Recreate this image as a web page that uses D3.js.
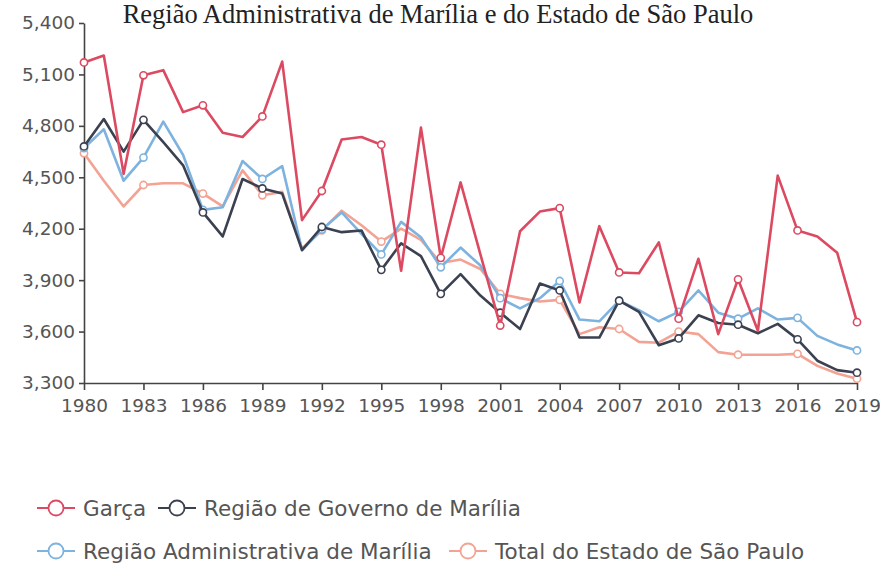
<!DOCTYPE html>
<html lang="pt">
<head>
<meta charset="UTF-8">
<title>Região Administrativa de Marília e do Estado de São Paulo</title>
<style>
    html, body { margin: 0; padding: 0; background: #fff; }
    svg { display: block; }
    .tick text { fill: #555; font-family: "DejaVu Sans", "Open Sans", sans-serif; font-size: 18.5px; }
    .tick line, .domain { stroke: #444; stroke-width: 1.6px; }
    .legend text { fill: #555; font-family: "DejaVu Sans", "Open Sans", sans-serif; font-size: 21.5px; }
</style>
</head>
<body>
<svg id="chart"></svg>
<script src="https://d3js.org/d3.v7.min.js"></script>
<script>
    // Data
    var years = d3.range(1980, 2020);
    var markerYears = [1980, 1983, 1986, 1989, 1992, 1995, 1998, 2001, 2004, 2007, 2010, 2013, 2016, 2019];
    var yTicks = [3300, 3600, 3900, 4200, 4500, 4800, 5100, 5400];

    var garca = [5170, 5210, 4520, 5095, 5125, 4880, 4920, 4760, 4735, 4855,
                 5175, 4250, 4420, 4720, 4735, 4690, 3955, 4790, 4030, 4470,
                 4050, 3635, 4185, 4300, 4320, 3770, 4215, 3945, 3940, 4120,
                 3675, 4025, 3585, 3905, 3605, 4510, 4190, 4155, 4060, 3655];
    var governo = [4680, 4840, 4650, 4835, 4705, 4570, 4295, 4155, 4490, 4435,
                   4405, 4075, 4210, 4180, 4190, 3960, 4115, 4040, 3820, 3935,
                   3810, 3710, 3615, 3880, 3840, 3565, 3565, 3780, 3715, 3520,
                   3560, 3695, 3650, 3640, 3590, 3645, 3555, 3430, 3375, 3360];
    var administrativa = [4670, 4780, 4480, 4615, 4825, 4630, 4310, 4325, 4595, 4490,
                          4565, 4075, 4195, 4295, 4170, 4050, 4240, 4150, 3975, 4090,
                          3985, 3795, 3735, 3795, 3895, 3670, 3660, 3780, 3725, 3660,
                          3715, 3840, 3710, 3675, 3735, 3670, 3680, 3575, 3525, 3490];
    var estado = [4640, 4480, 4330, 4455, 4465, 4465, 4405, 4330, 4540, 4395,
                  4415, 4085, 4190, 4305, 4220, 4125, 4200, 4135, 4000, 4020,
                  3965, 3820, 3795, 3775, 3785, 3585, 3625, 3615, 3540, 3535,
                  3600, 3585, 3480, 3465, 3465, 3465, 3470, 3400, 3355, 3325];

    var seriesNames = ["Garça", "Região de Governo de Marília",
                       "Região Administrativa de Marília", "Total do Estado de São Paulo"];
    var seriesColors = ["#dc4a62", "#3b4150", "#7db3de", "#f3a393"];

    var series = [
        { name: seriesNames[0], color: seriesColors[0], values: garca },
        { name: seriesNames[1], color: seriesColors[1], values: governo },
        { name: seriesNames[2], color: seriesColors[2], values: administrativa },
        { name: seriesNames[3], color: seriesColors[3], values: estado }
    ];

    // Layout
    var W = 880, H = 568;
    var margin = { top: 23, right: 23, bottom: 185, left: 84 },
        width = W - margin.left - margin.right,
        height = H - margin.top - margin.bottom;

    var svg = d3.select("#chart").attr("width", W).attr("height", H);

    // Title
    svg.append("text")
        .attr("x", 438)
        .attr("y", 23)
        .attr("text-anchor", "middle")
        .style("font-family", "'Liberation Serif', 'DejaVu Serif', serif")
        .style("font-size", "26.5px")
        .style("fill", "#222")
        .text("Região Administrativa de Marília e do Estado de São Paulo");

    var g = svg.append("g")
        .attr("transform", "translate(" + margin.left + "," + margin.top + ")");

    var x = d3.scaleLinear().domain([1980, 2019]).range([0, width]);
    var y = d3.scaleLinear().domain([3300, 5400]).range([height, 0]);

    // Axes
    g.append("g")
        .attr("transform", "translate(0," + height + ")")
        .call(d3.axisBottom(x).tickValues(markerYears).tickFormat(d3.format("d")).tickSize(7).tickSizeOuter(0))
        .call(a => a.selectAll(".tick text").attr("y", 11).attr("dy", "0.95em"));

    g.append("g")
        .call(d3.axisLeft(y).tickValues(yTicks).tickFormat(d3.format(",")).tickSize(5).tickSizeOuter(0))
        .call(a => a.selectAll(".tick text").attr("x", -9));

    // Lines, drawn back to front
    var line = d3.line()
        .x((d, i) => x(years[i]))
        .y(d => y(d));

    var order = [3, 2, 1, 0];
    order.forEach(function (k) {
        var s = series[k];
        g.append("path")
            .datum(s.values)
            .attr("fill", "none")
            .attr("stroke", s.color)
            .attr("stroke-width", 2.6)
            .attr("stroke-linejoin", "round")
            .attr("d", line);

        g.selectAll(null)
            .data(markerYears)
            .enter()
            .append("circle")
            .attr("cx", d => x(d))
            .attr("cy", d => y(s.values[years.indexOf(d)]))
            .attr("r", 3.6)
            .attr("fill", "#fff")
            .attr("stroke", s.color)
            .attr("stroke-width", 1.6);
    });

    // Legend
    var legendPos = [
        { x: 37, y: 508 },
        { x: 158, y: 508 },
        { x: 37, y: 551 },
        { x: 449, y: 551 }
    ];

    var legend = svg.append("g").attr("class", "legend");
    series.forEach(function (s, i) {
        var p = legendPos[i];
        var item = legend.append("g").attr("transform", "translate(" + p.x + "," + p.y + ")");
        item.append("line")
            .attr("x1", 0).attr("x2", 38)
            .attr("y1", 0).attr("y2", 0)
            .attr("stroke", s.color)
            .attr("stroke-width", 2);
        item.append("circle")
            .attr("cx", 19).attr("cy", 0).attr("r", 7.5)
            .attr("fill", "#fff")
            .attr("stroke", s.color)
            .attr("stroke-width", 1.8);
        item.append("text")
            .attr("x", 46)
            .attr("y", 0)
            .attr("dy", "0.35em")
            .text(s.name);
    });
</script>
</body>
</html>
